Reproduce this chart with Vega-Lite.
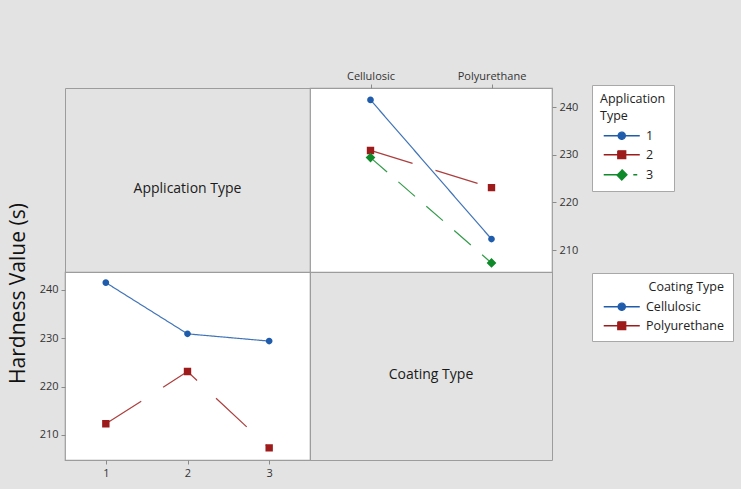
{
  "$schema": "https://vega.github.io/schema/vega-lite/v6.json",
  "background": "#e3e3e3",
  "padding": {"left": 6, "top": 69, "right": 8, "bottom": 10},
  "datasets": {
    "means": [
      {"app": "1", "coating": "Cellulosic", "hardness": 241.5},
      {"app": "2", "coating": "Cellulosic", "hardness": 230.9},
      {"app": "3", "coating": "Cellulosic", "hardness": 229.4},
      {"app": "1", "coating": "Polyurethane", "hardness": 212.3},
      {"app": "2", "coating": "Polyurethane", "hardness": 223.1},
      {"app": "3", "coating": "Polyurethane", "hardness": 207.3}
    ],
    "labelA": [{"label": "Application Type"}],
    "labelB": [{"label": "Coating Type"}]
  },
  "config": {
    "font": "Open Sans",
    "view": {"stroke": "#9c9c9c", "strokeWidth": 1.2},
    "axis": {
      "domain": false,
      "grid": false,
      "tickColor": "#8a8a8a",
      "tickSize": 4,
      "labelFont": "Open Sans",
      "labelFontSize": 11,
      "labelColor": "#333333",
      "labelPadding": 3
    },
    "legend": {
      "fillColor": "white",
      "strokeColor": "#a8a8a8",
      "padding": 8,
      "labelFont": "Open Sans",
      "labelFontSize": 12.5,
      "labelColor": "#222222",
      "titleFont": "Open Sans",
      "titleFontSize": 12.5,
      "titleFontWeight": "normal",
      "titleColor": "#222222",
      "titleLineHeight": 17,
      "titlePadding": 7,
      "rowPadding": 5,
      "symbolSize": 52,
      "symbolStrokeWidth": 1.3,
      "symbolOpacity": 1,
      "symbolOffset": 15.5,
      "labelOffset": 18
    }
  },
  "columns": 2,
  "spacing": 0,
  "bounds": "flush",
  "resolve": {
    "scale": {"x": "independent", "y": "independent", "color": "independent", "shape": "independent", "strokeDash": "independent"}
  },
  "concat": [
    {
      "width": 245,
      "height": 184,
      "view": {"stroke": "#9c9c9c"},
      "data": {"name": "labelA"},
      "mark": {"type": "text", "fontSize": 14, "color": "#1a1a1a", "dy": 9},
      "encoding": {"text": {"field": "label", "type": "nominal"}}
    },
    {
      "width": 242,
      "height": 184,
      "view": {"fill": "white"},
      "data": {"name": "means"},
      "encoding": {
        "x": {"field": "coating", "type": "nominal", "sort": ["Cellulosic", "Polyurethane"], "scale": {"type": "point", "padding": 0.5}, "axis": {"orient": "top", "title": null, "labelAngle": 0}},
        "y": {"field": "hardness", "type": "quantitative", "scale": {"domain": [205.4, 244], "nice": false, "zero": false}, "axis": {"orient": "right", "title": null, "values": [210, 220, 230, 240]}},
        "color": {
          "field": "app", "type": "nominal",
          "scale": {"domain": ["1", "2", "3"], "range": ["#1f5cac", "#9e1b1b", "#0f8a2a"]},
          "legend": {"orient": "none", "legendX": 282, "legendY": -3, "title": ["Application", "Type"]}
        }
      },
      "layer": [
        {
          "mark": {"type": "line", "strokeWidth": 1.2, "strokeOpacity": 0.85},
          "encoding": {
            "strokeDash": {"field": "app", "type": "nominal", "scale": {"domain": ["1", "2", "3"], "range": [[1, 0], [44, 24], [22, 15]]}, "legend": null}
          }
        },
        {
          "mark": {"type": "point", "filled": true, "opacity": 1, "size": 45},
          "encoding": {
            "shape": {"field": "app", "type": "nominal", "scale": {"domain": ["1", "2", "3"], "range": ["M-5,0H5M1,0A1,1 0 1,1 -1,0A1,1 0 1,1 1,0Z", "M-5,0H5M-1.1,-1.1H1.1V1.1H-1.1Z", "M-5,0H2.2M3.2,0H4.3M0,-1.45L1.45,0L0,1.45L-1.45,0Z"]}, "legend": null}
          }
        }
      ]
    },
    {
      "width": 245,
      "height": 188,
      "view": {"fill": "white"},
      "data": {"name": "means"},
      "encoding": {
        "x": {"field": "app", "type": "nominal", "sort": ["1", "2", "3"], "scale": {"type": "point", "padding": 0.5}, "axis": {"orient": "bottom", "title": null, "labelAngle": 0}},
        "y": {"field": "hardness", "type": "quantitative", "scale": {"domain": [204.8, 243.7], "nice": false, "zero": false}, "axis": {"orient": "left", "values": [210, 220, 230, 240], "title": "Hardness Value (s)", "titleFontSize": 21, "titleFontWeight": "normal", "titleColor": "#111111", "titleX": -37, "titleY": 21}},
        "color": {
          "field": "coating", "type": "nominal",
          "scale": {"domain": ["Cellulosic", "Polyurethane"], "range": ["#1f5cac", "#9e1b1b"]},
          "legend": {"orient": "none", "legendX": 527, "legendY": 1, "title": "Coating Type", "titleAnchor": "end"}
        }
      },
      "layer": [
        {
          "mark": {"type": "line", "strokeWidth": 1.2, "strokeOpacity": 0.85},
          "encoding": {
            "strokeDash": {"field": "coating", "type": "nominal", "scale": {"domain": ["Cellulosic", "Polyurethane"], "range": [[1, 0], [42, 26]]}, "legend": null}
          }
        },
        {
          "mark": {"type": "point", "filled": true, "opacity": 1, "size": 45},
          "encoding": {
            "shape": {"field": "coating", "type": "nominal", "scale": {"domain": ["Cellulosic", "Polyurethane"], "range": ["M-5,0H5M1,0A1,1 0 1,1 -1,0A1,1 0 1,1 1,0Z", "M-5,0H5M-1.1,-1.1H1.1V1.1H-1.1Z"]}, "legend": null}
          }
        }
      ]
    },
    {
      "width": 242,
      "height": 188,
      "view": {"stroke": "#9c9c9c"},
      "data": {"name": "labelB"},
      "mark": {"type": "text", "fontSize": 14, "color": "#1a1a1a", "dy": 9},
      "encoding": {"text": {"field": "label", "type": "nominal"}}
    }
  ]
}
